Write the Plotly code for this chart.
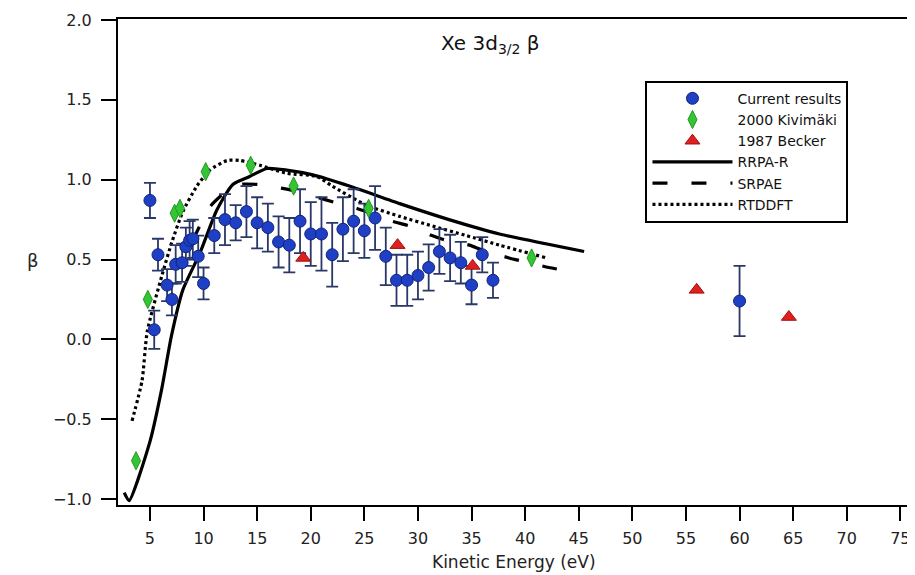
import plotly.graph_objects as go

# ---- data ----
cur_x = [5.0, 5.4, 5.75, 6.6, 7.05, 7.4, 8.0, 8.35, 8.7, 9.0, 9.5, 10, 11, 12, 13, 14, 15, 16, 17, 18,
         19, 20, 21, 22, 23, 24, 25, 26, 27, 28, 29, 30, 31, 32, 33, 34, 35, 36, 37, 60]
cur_y = [0.87, 0.06, 0.53, 0.34, 0.25, 0.47, 0.48, 0.58, 0.62, 0.63, 0.52, 0.35, 0.65, 0.75, 0.73, 0.80,
         0.73, 0.70, 0.61, 0.59, 0.74, 0.66, 0.66, 0.53, 0.69, 0.74, 0.68, 0.76, 0.52, 0.37, 0.37, 0.40,
         0.45, 0.55, 0.51, 0.48, 0.34, 0.53, 0.37, 0.24]
cur_err = [0.11, 0.12, 0.10, 0.10, 0.10, 0.12, 0.12, 0.12, 0.12, 0.12, 0.13, 0.10, 0.11, 0.16, 0.11, 0.16,
           0.16, 0.15, 0.16, 0.17, 0.20, 0.20, 0.23, 0.20, 0.20, 0.20, 0.17, 0.20, 0.18, 0.16, 0.16, 0.15,
           0.145, 0.14, 0.145, 0.13, 0.12, 0.11, 0.11, 0.22]

kiv_x = [3.7, 4.8, 7.3, 7.8, 10.2, 14.4, 18.4, 25.4, 40.6]
kiv_y = [-0.76, 0.25, 0.79, 0.82, 1.05, 1.09, 0.96, 0.82, 0.51]

bec_x = [19.3, 28.1, 35.1, 56.0, 64.6]
bec_y = [0.51, 0.59, 0.46, 0.31, 0.14]

rrpa_x = [2.6, 3.05, 5.0, 6.1, 7.0, 8.07, 9.66, 11.24, 12.73, 14.3, 15.9, 17.76, 20.2, 23.6, 28.3, 32.9, 37.6, 45.5]
rrpa_y = [-0.96, -1.01, -0.64, -0.31, 0.02, 0.31, 0.54, 0.81, 0.97, 1.02, 1.07, 1.06, 1.03, 0.96, 0.85, 0.75, 0.66, 0.55]

srpae_x = [9.0, 10.6, 12.0, 13.4, 15.0, 17.0, 18.5, 20.6, 22.1, 24.3, 25.2, 27.6, 29.2, 31.3, 32.6, 34.8, 36.0,
           38.5, 39.7, 42.2, 43.9]
srpae_y = [0.62, 0.83, 0.92, 0.97, 0.97, 0.95, 0.93, 0.89, 0.86, 0.82, 0.80, 0.74, 0.71, 0.65, 0.62, 0.59, 0.56,
           0.51, 0.49, 0.45, 0.43]

rtd_x = [3.33, 4.26, 4.75, 6.12, 7.05, 8.07, 9.38, 10.59, 12.2, 13.4, 15.25, 17.76, 20.55, 22.0, 25.2, 28.3,
         31.35, 34.5, 37.6, 42.0]
rtd_y = [-0.51, -0.26, 0.05, 0.40, 0.61, 0.80, 0.96, 1.06, 1.12, 1.12, 1.09, 1.04, 1.02, 0.96, 0.84, 0.77,
         0.71, 0.65, 0.59, 0.51]

x_ticks = [5, 10, 15, 20, 25, 30, 35, 40, 45, 50, 55, 60, 65, 70, 75]
y_ticks = [-1.0, -0.5, 0.0, 0.5, 1.0, 1.5, 2.0]

FONT = "DejaVu Sans, Arial, sans-serif"

fig = go.Figure()

fig.add_trace(go.Scatter(x=rrpa_x, y=rrpa_y, mode="lines", name="RRPA-R", legendrank=4,
                         line=dict(color="black", width=3.2, shape="spline", smoothing=0.6)))
fig.add_trace(go.Scatter(x=srpae_x, y=srpae_y, mode="lines", name="SRPAE", legendrank=5,
                         line=dict(color="black", width=3.2, dash="15px,24px", shape="spline", smoothing=0.6)))
fig.add_trace(go.Scatter(x=rtd_x, y=rtd_y, mode="lines", name="RTDDFT", legendrank=6,
                         line=dict(color="black", width=3.2, dash="3px,3px", shape="spline", smoothing=0.6)))

fig.add_trace(go.Scatter(x=cur_x, y=cur_y, mode="markers", name="Current results", legendrank=1,
                         marker=dict(symbol="circle", size=12, color="#1f3fc4",
                                     line=dict(color="#10247a", width=1)),
                         error_y=dict(type="data", array=cur_err, visible=True, color="#2a3868",
                                      thickness=1.8, width=6)))
fig.add_trace(go.Scatter(x=kiv_x, y=kiv_y, mode="markers", name="2000 Kivimäki", legendrank=2,
                         marker=dict(symbol="diamond-tall", size=13, color="#34c434",
                                     line=dict(color="#229922", width=1))))
fig.add_trace(go.Scatter(x=bec_x, y=bec_y, mode="markers", name="1987 Becker", legendrank=3,
                         marker=dict(symbol="triangle-up", size=13, color="#e01f1f",
                                     line=dict(color="#a01010", width=1))))

# page body has an 8px margin, so the figure is 8px smaller than the window
fig.update_layout(
    width=907, height=567,
    margin=dict(l=110, r=3, t=7, b=70),
    paper_bgcolor="white", plot_bgcolor="white",
    font=dict(family=FONT, size=15, color="#222"),
    showlegend=True,
    legend=dict(x=0.666, y=0.873, xanchor="left", yanchor="top",
                bgcolor="white", bordercolor="black", borderwidth=2,
                font=dict(family=FONT, size=14, color="#111"),
                itemwidth=80, tracegroupgap=0, traceorder="normal"),
    xaxis=dict(range=[2.02, 75.9], tickvals=x_ticks, ticks="outside", ticklen=14, tickwidth=2,
               tickcolor="black", showline=True, linecolor="black", linewidth=2, mirror=True,
               showgrid=False, zeroline=False, ticklabelstandoff=4, ticklabeloverflow="allow",
               tickfont=dict(family=FONT, size=16, color="#222")),
    yaxis=dict(range=[-1.037, 2.006], tickvals=y_ticks, tickformat=".1f", ticks="outside", ticklen=15,
               tickwidth=2, tickcolor="black", showline=True, linecolor="black", linewidth=2, mirror=True,
               showgrid=False, zeroline=False, ticklabelstandoff=6, ticklabeloverflow="allow",
               tickfont=dict(family=FONT, size=16, color="#222")),
    annotations=[
        dict(text="Xe 3d<sub>3/2</sub> β", xref="paper", yref="paper", x=0.47, y=0.949,
             showarrow=False, font=dict(family=FONT, size=20, color="#111"), xanchor="center", yanchor="middle"),
        dict(text="Kinetic Energy (eV)", xref="paper", yref="paper", x=0.5, y=-0.118,
             showarrow=False, font=dict(family=FONT, size=17, color="#222"), xanchor="center", yanchor="middle"),
        dict(text="β", xref="paper", yref="paper", x=-0.107, y=0.504,
             showarrow=False, font=dict(family=FONT, size=18, color="#222"), xanchor="center", yanchor="middle"),
    ],
)

fig.write_html("out.html")
